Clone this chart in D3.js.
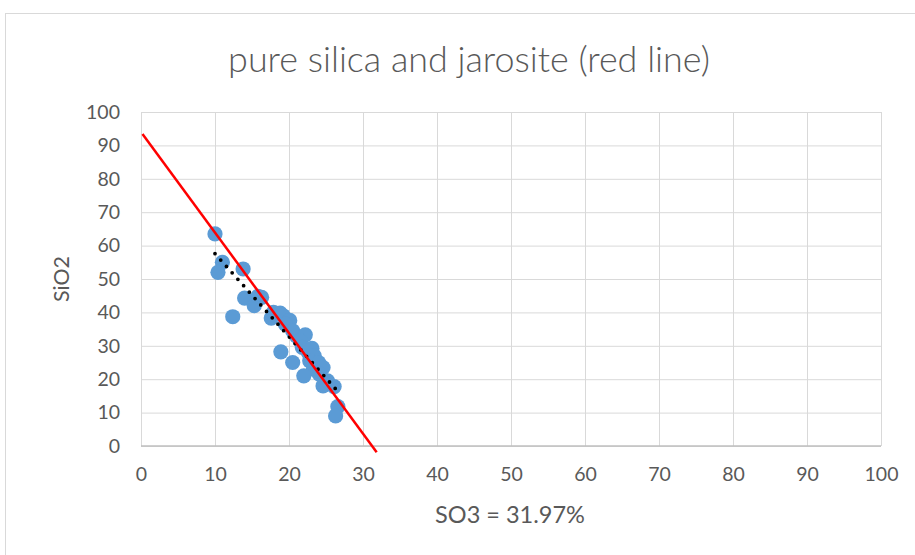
<!DOCTYPE html>
<html>
<head>
<meta charset="utf-8">
<script src="https://cdn.jsdelivr.net/npm/d3@7/dist/d3.min.js"></script>
<style>
  html, body { margin: 0; padding: 0; background: #ffffff; }
  svg { display: block; font-family: Lato, "Open Sans", sans-serif; }
</style>
</head>
<body>
<svg id="chart" width="915" height="555"></svg>
<script>
// Samples: SO3 (%) vs SiO2 (%)
const so3 = [10.0, 11.0, 10.4, 13.8, 14.0, 12.4, 15.3, 15.8, 16.3, 17.6,
             17.9, 18.8, 19.2, 20.1, 19.5, 20.5, 21.0, 22.2, 21.5, 21.8,
             18.9, 20.5, 22.6, 23.1, 23.4, 22.8, 24.0, 24.6, 23.3, 22.0,
             24.1, 24.6, 25.2, 26.1, 26.6, 26.3];
const sio2 = [63.5, 55.0, 52.0, 53.0, 44.3, 38.7, 42.0, 44.8, 44.5, 38.3,
              40.0, 39.8, 39.0, 37.6, 36.5, 34.5, 33.0, 33.3, 31.5, 29.5,
              28.2, 25.0, 28.0, 29.2, 27.0, 25.5, 25.0, 23.5, 23.0, 21.0,
              21.5, 18.0, 19.5, 17.8, 11.8, 9.0];

// Linear trendline of the samples (end points)
const trendX = [10.0, 26.5];
const trendY = [57.6, 16.6];

// Silica–jarosite mixing line (red)
const mixX = [0.2, 31.85];
const mixY = [93.4, -1.9];

const xTicks = [0, 10, 20, 30, 40, 50, 60, 70, 80, 90, 100];
const yTicks = [0, 10, 20, 30, 40, 50, 60, 70, 80, 90, 100];

const titleText = "pure silica and jarosite (red line)";
const xTitle = "SO3 = 31.97%";
const yTitle = "SiO2";

const svg = d3.select("#chart");
const plotL = 141, plotR = 881, plotT = 112, plotB = 446;

const x = d3.scaleLinear().domain([0, 100]).range([plotL, plotR]);
const y = d3.scaleLinear().domain([0, 100]).range([plotB, plotT]);

// chart area frame
svg.append("rect")
  .attr("x", 5.5).attr("y", 13.5)
  .attr("width", 930).attr("height", 560)
  .attr("fill", "#ffffff").attr("stroke", "#d9d9d9").attr("stroke-width", 1);

// gridlines
const gx = svg.append("g")
  .attr("transform", `translate(0,${plotB})`)
  .call(d3.axisBottom(x).tickValues(xTicks).tickSize(-(plotB - plotT)).tickFormat(""));
gx.select(".domain").remove();
gx.selectAll("line").attr("stroke", "#d9d9d9").attr("stroke-width", 1);

const gy = svg.append("g")
  .attr("transform", `translate(${plotL},0)`)
  .call(d3.axisLeft(y).tickValues(yTicks).tickSize(-(plotR - plotL)).tickFormat(""));
gy.select(".domain").remove();
gy.selectAll("line").attr("stroke", "#d9d9d9").attr("stroke-width", 1);

// horizontal axis line
svg.append("line")
  .attr("x1", plotL).attr("x2", plotR)
  .attr("y1", plotB).attr("y2", plotB)
  .attr("stroke", "#bfbfbf").attr("stroke-width", 1.5);

// tick labels
const xl = svg.append("g")
  .attr("transform", `translate(0,${plotB})`)
  .call(d3.axisBottom(x).tickValues(xTicks).tickSize(0).tickPadding(21));
xl.select(".domain").remove();
xl.selectAll("text")
  .attr("fill", "#595959").style("font-size", "19.5px")
  .style("font-family", "Lato, sans-serif");

const yl = svg.append("g")
  .attr("transform", `translate(${plotL - 21},0)`)
  .call(d3.axisLeft(y).tickValues(yTicks).tickSize(0).tickPadding(0));
yl.select(".domain").remove();
yl.selectAll("text")
  .attr("fill", "#595959").style("font-size", "19.5px")
  .style("font-family", "Lato, sans-serif");

// points
svg.append("g").selectAll("circle")
  .data(so3.map((v, i) => [v, sio2[i]]))
  .join("circle")
  .attr("cx", d => x(d[0]))
  .attr("cy", d => y(d[1]))
  .attr("r", 7.6)
  .attr("fill", "#5b9bd5");

// trendline (round dots)
svg.append("line")
  .attr("x1", x(trendX[0])).attr("y1", y(trendY[0]))
  .attr("x2", x(trendX[1])).attr("y2", y(trendY[1]))
  .attr("stroke", "#000000").attr("stroke-width", 3.8)
  .attr("stroke-linecap", "round")
  .attr("stroke-dasharray", "0 8.6");

// mixing line
svg.append("line")
  .attr("x1", x(mixX[0])).attr("y1", y(mixY[0]))
  .attr("x2", x(mixX[1])).attr("y2", y(mixY[1]))
  .attr("stroke", "#ff0000").attr("stroke-width", 2.5);

// titles
function fitText(sel, target) {
  const w = sel.node().getComputedTextLength();
  const fs = parseFloat(sel.style("font-size"));
  sel.style("font-size", (fs * target / w) + "px");
}

const t = svg.append("text")
  .attr("x", 469).attr("y", 72)
  .attr("text-anchor", "middle")
  .attr("fill", "#595959")
  .style("font-size", "28px")
  .style("font-weight", 300)
  .text(titleText);
fitText(t, 482);

const xt = svg.append("text")
  .attr("x", 510).attr("y", 523)
  .attr("text-anchor", "middle")
  .attr("fill", "#595959")
  .style("font-size", "19px")
  .text(xTitle);
fitText(xt, 150);

const yt = svg.append("text")
  .attr("transform", `translate(69,279) rotate(-90)`)
  .attr("text-anchor", "middle")
  .attr("fill", "#595959")
  .style("font-size", "19px")
  .text(yTitle);
fitText(yt, 46);
</script>
</body>
</html>
